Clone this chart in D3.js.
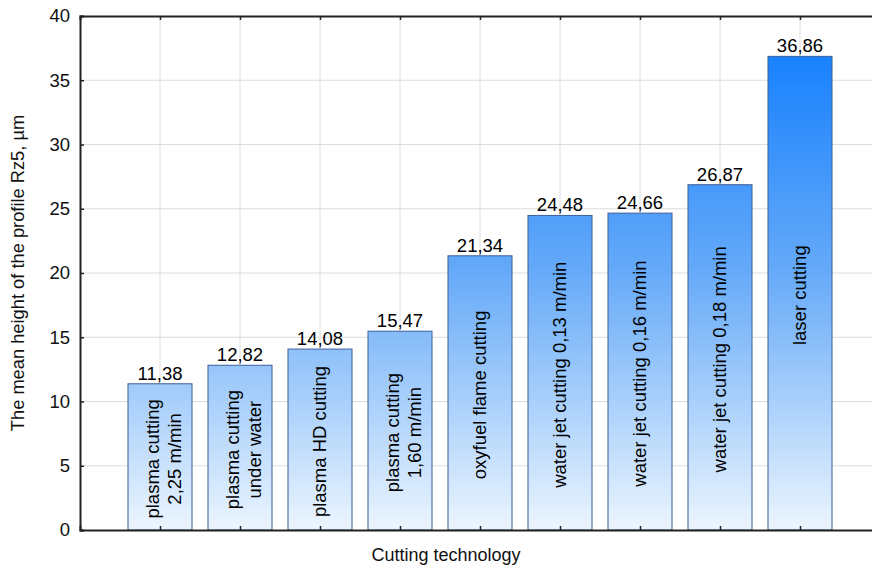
<!DOCTYPE html>
<html><head><meta charset="utf-8">
<script src="https://cdn.jsdelivr.net/npm/d3@7"></script>
<style>body{margin:0;background:#fff}svg{display:block;font-family:Arial,"Liberation Sans",sans-serif}</style>
</head><body><svg id="c" width="872" height="570"></svg>
<script>
const categories = [
  ["plasma cutting","2,25 m/min"],
  ["plasma cutting","under water"],
  ["plasma HD cutting"],
  ["plasma cutting","1,60 m/min"],
  ["oxyfuel flame cutting"],
  ["water jet cutting 0,13 m/min"],
  ["water jet cutting 0,16 m/min"],
  ["water jet cutting 0,18 m/min"],
  ["laser cutting"]
];
const values = [11.38, 12.82, 14.08, 15.47, 21.34, 24.48, 24.66, 26.87, 36.86];
const valueLabels = ["11,38","12,82","14,08","15,47","21,34","24,48","24,66","26,87","36,86"];
const yTicks = [0,5,10,15,20,25,30,35,40];

const svg = d3.select("#c");
const L = 80, T = 16, R = 880, B = 530;
const x = d3.scaleLinear().domain([0,10]).range([L,R]);
const y = d3.scaleLinear().domain([0,40]).range([B,T]);
const bw = (x(1)-x(0))*0.8;

const defs = svg.append("defs");
const g = defs.append("linearGradient").attr("id","bg").attr("gradientUnits","userSpaceOnUse")
  .attr("x1",0).attr("x2",0).attr("y1",y(0)).attr("y2",y(40));
g.append("stop").attr("offset","0").attr("stop-color","#ecf5fe");
g.append("stop").attr("offset","0.5").attr("stop-color","#66aaf8");
g.append("stop").attr("offset","1").attr("stop-color","#0a7aff");

// grid
svg.append("g").selectAll("line").data(yTicks.slice(1,-1)).join("line")
  .attr("x1",L).attr("x2",R).attr("y1",d=>y(d)).attr("y2",d=>y(d))
  .attr("stroke","#dcdcdc").attr("stroke-width",1);
svg.append("g").selectAll("line").data(values).join("line")
  .attr("x1",(d,i)=>x(i+1)).attr("x2",(d,i)=>x(i+1)).attr("y1",T).attr("y2",B)
  .attr("stroke","#dcdcdc").attr("stroke-width",1);

// bars
svg.append("g").selectAll("rect").data(values).join("rect")
  .attr("x",(d,i)=>x(i+1)-bw/2).attr("width",bw)
  .attr("y",d=>y(d)).attr("height",d=>B-y(d))
  .attr("fill","url(#bg)").attr("stroke","#3d5f9a").attr("stroke-width",1);

// value labels
svg.append("g").selectAll("text").data(values).join("text")
  .attr("x",(d,i)=>x(i+1)).attr("y",d=>y(d)-4)
  .attr("text-anchor","middle").attr("font-size",18.5).attr("fill","#000")
  .text((d,i)=>valueLabels[i]);

// category labels inside bars
const cl = svg.append("g").selectAll("g").data(categories).join("g")
  .attr("transform",(d,i)=>`translate(${x(i+1)-1},${(y(values[i])+B)/2+2}) rotate(-90)`);
cl.each(function(d){
  const n = d.length;
  d3.select(this).selectAll("text").data(d).join("text")
    .attr("x",0).attr("y",(t,j)=>(j-(n-1)/2)*22+6.5+(n>1?4:0))
    .attr("text-anchor","middle").attr("font-size",18.5).attr("fill","#000")
    .text(t=>t);
});

// axes frame
const yAxis = d3.axisLeft(y).tickValues(yTicks).tickSize(-4).tickPadding(10).tickFormat(d3.format("d"));
const ya = svg.append("g").attr("transform",`translate(${L},0)`).call(yAxis);
ya.select(".domain").attr("stroke","#222").attr("stroke-width",2);
ya.selectAll(".tick line").attr("stroke","#222").attr("stroke-width",1.5);
ya.selectAll(".tick text").attr("font-size",18.5).attr("font-family","Arial, Liberation Sans, sans-serif").attr("fill","#111");

const cats = d3.range(1,10);
const xb = d3.axisBottom(x).tickValues(cats).tickSize(-4).tickFormat("");
const xa = svg.append("g").attr("transform",`translate(0,${B})`).call(xb);
xa.select(".domain").attr("stroke","#222").attr("stroke-width",2);
xa.selectAll(".tick line").attr("stroke","#222").attr("stroke-width",1.5);
const xt = d3.axisTop(x).tickValues(cats).tickSize(-4).tickFormat("");
const xta = svg.append("g").attr("transform",`translate(0,${T})`).call(xt);
xta.select(".domain").attr("stroke","#222").attr("stroke-width",2);
xta.selectAll(".tick line").attr("stroke","#222").attr("stroke-width",1.5);

// axis titles
svg.append("text").attr("x",446).attr("y",561).attr("text-anchor","middle")
  .attr("font-size",18).attr("fill","#111").text("Cutting technology");
svg.append("text").attr("transform","translate(24,273) rotate(-90)").attr("text-anchor","middle")
  .attr("font-size",18.3).attr("fill","#111").text("The mean height of the profile Rz5, µm");
</script></body></html>
